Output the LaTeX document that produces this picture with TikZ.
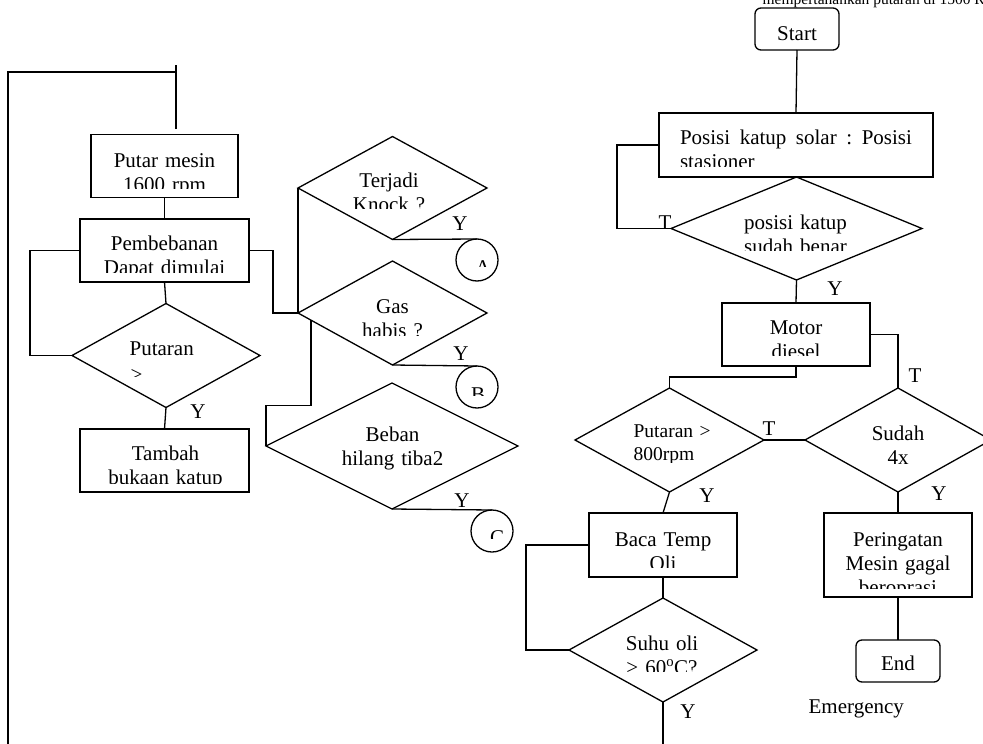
\documentclass[tikz,border=0pt]{standalone}
\usepackage{fontspec}
\setmainfont{Liberation Serif}
\usetikzlibrary{shapes.geometric,calc}
\begin{document}
\begin{tikzpicture}[x=1pt,y=-1pt,line width=1.3pt,
  box/.style={draw, rectangle, inner sep=0pt, outer sep=0pt},
  rbox/.style={box, rounded corners=6pt},
  dia/.style={draw, diamond, inner sep=0pt, outer sep=0pt},
  conn/.style={draw, circle, inner sep=0pt, outer sep=0pt, minimum size=42pt},
  lbl/.style={font=\fontsize{21}{24}\selectfont, inner sep=0pt, anchor=base},
  ml/.style={lbl, text width=#1, align=center}]
\useasboundingbox (0,0) rectangle (983,744);
\clip (0,0) rectangle (983,744);

% title (cut at the top edge)
\node[lbl, anchor=base west, font=\fontsize{15.5}{18}\selectfont] (title) at (762,5) {mempertahankan putaran di 1500 Rpm};

% ---------- left column ----------
\node[box, minimum width=147pt, minimum height=63pt] (pm) at (164.5,166) {};
\node[box, minimum width=169pt, minimum height=63pt] (pb) at (164.5,250.5) {};
\node[dia, minimum width=188pt, minimum height=104pt] (pd) at (166,355.5) {};
\node[box, minimum width=169pt, minimum height=63pt] (tb) at (164.5,460.5) {};

\begin{scope}\clip (91,134) rectangle (238,188);
\node[ml=147pt] (pmt) at (164.5,167) {Putar mesin\\1600 rpm};\end{scope}
\begin{scope}\clip (80,219) rectangle (249,272);
\node[ml=169pt] (pbt) at (164.5,250) {Pembebanan\\Dapat dimulai};\end{scope}
\node[lbl, anchor=base west] (pdt) at (129,355) {Putaran};
\begin{scope}\clip (100,360) rectangle (230,376);
\node[lbl, anchor=base west] (pdt2) at (130,381) {>};\end{scope}
\begin{scope}\clip (80,429) rectangle (249,483);
\node[ml=169pt] (tbt) at (165.5,460) {Tambah\\bukaan katup};\end{scope}

\coordinate (L1) at (176,129);
\coordinate (L2) at (176,65);
\coordinate (L3) at (176,72);
\coordinate (L4) at (8,72);
\coordinate (L5) at (8,744);
\draw (L1) -- (L2);
\draw (L3) -- (L4) -- (L5);
\draw (pm.south) -- (pb.north);
\draw (pb.south) -- (pd.north);
\draw (pd.south) -- (tb.north);
\draw (pb.west) -- ++(-50,0) |- (pd.west);
\node[lbl] (y1) at (198,418) {Y};

% ---------- middle column ----------
\node[dia, minimum width=189pt, minimum height=103pt] (td) at (392.5,188) {};
\node[dia, minimum width=189pt, minimum height=104pt] (gd) at (392.5,313) {};
\node[dia, minimum width=252pt, minimum height=126pt] (bd) at (392,446) {};
\node[conn] (ca) at (477,260) {};
\node[conn] (cb) at (477,387) {};
\node[conn] (cc) at (492,531) {};

\draw (pb.east) -- ++(24,0) |- (gd.west);

\begin{scope}\clip (320,150) rectangle (465,208);
\node[ml=120pt] (tdt) at (389,187) {Terjadi\\Knock ?};\end{scope}
\begin{scope}\clip (320,280) rectangle (465,335);
\node[ml=120pt] (gdt) at (392.5,313) {Gas\\habis ?};\end{scope}
\node[ml=160pt] (bdt) at (392.5,441) {Beban\\hilang tiba2};
\begin{scope}\clip (456,239) rectangle (498,266);
\node[lbl] (cat) at (483,274) {A};\end{scope}
\begin{scope}\clip (456,366) rectangle (498,395);
\node[lbl] (cbt) at (478,401) {B};\end{scope}
\begin{scope}\clip (471,510) rectangle (513,538);
\node[lbl] (cct) at (497,544) {C};\end{scope}

\draw (td.west) -- (gd.west);
\draw (td.south) -- (ca.north);
\draw (gd.south) -- (cb.north);
\draw (bd.south) -- (cc.north);
\coordinate (gdx) at ($(gd.west)!0.1376!(gd.south)$);
\draw (gdx) -- ++(0,85) -| (bd.west);
\node[lbl] (y2) at (460,230) {Y};
\node[lbl] (y3) at (461,360) {Y};
\node[lbl] (y4) at (462,507) {Y};

% ---------- right column ----------
\node[rbox, minimum width=84pt, minimum height=42pt] (st) at (797,29) {};
\node[box, minimum width=274pt, minimum height=64pt] (pk) at (796,145) {};
\node[dia, minimum width=251pt, minimum height=103pt] (pq) at (796.5,228.5) {};
\node[box, minimum width=148pt, minimum height=63pt] (mo) at (796,334.5) {};
\node[dia, minimum width=189pt, minimum height=104pt] (pr) at (669.5,440) {};
\node[dia, minimum width=186pt, minimum height=104pt] (sd) at (898,440) {};
\node[box, minimum width=148pt, minimum height=64pt] (bt) at (663,545) {};
\node[dia, minimum width=188pt, minimum height=104pt] (su) at (663,650) {};
\node[box, minimum width=148pt, minimum height=84pt] (pg) at (898,555) {};
\node[rbox, minimum width=84pt, minimum height=42pt] (en) at (898,661) {};

\node[lbl] (stt) at (797,40) {Start};
\begin{scope}\clip (659,113) rectangle (933,166);
\node[lbl, text width=232pt, align=left] (pkt) at (796,144) {Posisi\hfill katup\hfill solar\hfill :\hfill Posisi\\stasioner};\end{scope}
\begin{scope}\clip (700,190) rectangle (890,250);
\node[ml=150pt] (pqt) at (795.5,229) {posisi katup\\sudah benar};\end{scope}
\begin{scope}\clip (722,303) rectangle (870,355);
\node[ml=148pt] (mot) at (796,334) {Motor\\diesel};\end{scope}
\begin{scope}\clip (600,400) rectangle (740,462);
\node[lbl, anchor=base west, font=\fontsize{19.5}{23}\selectfont, text width=110pt, align=left] (prt) at (633,437) {Putaran >\\800rpm};\end{scope}
\begin{scope}\clip (840,400) rectangle (960,463);
\node[ml=110pt] (sdt) at (898,440) {Sudah\\4x};\end{scope}
\begin{scope}\clip (589,513) rectangle (737,567);
\node[ml=148pt] (btt) at (663,546) {Baca Temp\\Oli};\end{scope}
\begin{scope}\clip (600,610) rectangle (730,671);
\node[ml=130pt] (sut) at (662,650) {Suhu oli\\> 60\textsuperscript{o}C?};\end{scope}
\begin{scope}\clip (824,513) rectangle (972,588);
\node[ml=148pt] (pgt) at (898,546) {Peringatan\\Mesin gagal\\beroprasi};\end{scope}
\node[lbl] (ent) at (898,670) {End};
\node[lbl, anchor=base west] (em) at (808,713) {Emergency};

\coordinate (suEnd) at (663,744);
\draw (st.south) -- (pk.north);
\draw (pk.west) -- ++(-42,0) |- (pq.west);
\draw (pq.south) -- (mo.north);
\draw (mo.south) -- ++(0,11) -| (pr.north);
\draw (mo.east) -| (sd.north);
\draw (pr.east) -- (sd.west);
\draw (pr.south) -- (bt.north);
\draw (bt.south) -- (su.north);
\draw (bt.west) -- ++(-63,0) |- (su.west);
\draw (su.south) -- (suEnd);
\draw (sd.south) -- (pg.north);
\draw (pg.south) -- (en.north);

\node[lbl] (t1) at (665,229) {T};
\node[lbl] (y5) at (835,295) {Y};
\node[lbl] (t2) at (915,382) {T};
\node[lbl] (t3) at (769,435) {T};
\node[lbl] (y6) at (707,502) {Y};
\node[lbl] (y7) at (939,500) {Y};
\node[lbl] (y8) at (688,718) {Y};
\end{tikzpicture}
\end{document}
